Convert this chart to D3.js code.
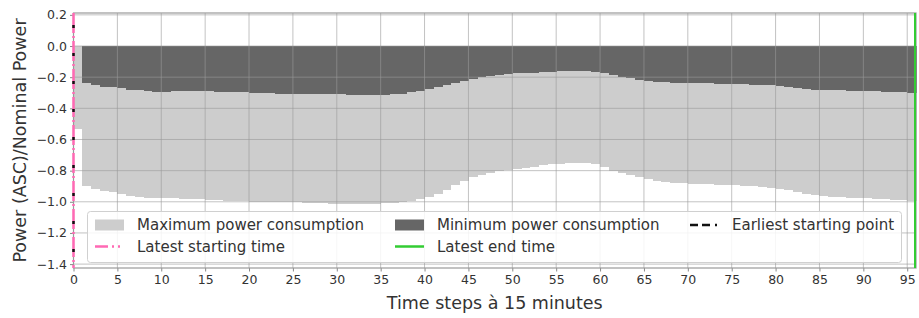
<!DOCTYPE html>
<html>
<head>
<meta charset="utf-8">
<script src="https://cdn.jsdelivr.net/npm/d3@7"></script>
<style>
  body { margin: 0; background: #fff; }
  svg { display: block; font-family: "DejaVu Sans", sans-serif; }
</style>
</head>
<body>
<svg id="chart"></svg>
<script>
// time step index (each bar spans [step, step + 1])
const steps = d3.range(96);

// maximum power consumption per step (light grey)
const maxPower = [
  -0.535, -0.900, -0.915, -0.930, -0.940, -0.950, -0.960, -0.970, -0.975, -0.978,
  -0.978, -0.978, -0.980, -0.982, -0.985, -0.987, -0.990, -0.992, -0.995, -0.997,
  -0.999, -1.000, -1.001, -1.002, -1.003, -1.004, -1.005, -1.007, -1.009, -1.011,
  -1.013, -1.015, -1.016, -1.016, -1.014, -1.010, -1.006, -1.000, -0.995, -0.985,
  -0.970, -0.950, -0.925, -0.895, -0.865, -0.840, -0.825, -0.812, -0.802, -0.795,
  -0.788, -0.781, -0.774, -0.766, -0.760, -0.755, -0.749, -0.749, -0.753, -0.758,
  -0.775, -0.800, -0.815, -0.830, -0.843, -0.855, -0.865, -0.873, -0.879, -0.882,
  -0.885, -0.887, -0.888, -0.889, -0.891, -0.893, -0.896, -0.900, -0.905, -0.910,
  -0.915, -0.925, -0.938, -0.950, -0.958, -0.963, -0.967, -0.970, -0.973, -0.976,
  -0.978, -0.981, -0.984, -0.987, -0.990, -0.993
];

// minimum power consumption per step (dark grey)
const minPower = [
   0.000, -0.240, -0.250, -0.260, -0.265, -0.270, -0.280, -0.285, -0.290, -0.293,
  -0.293, -0.290, -0.290, -0.288, -0.288, -0.290, -0.292, -0.294, -0.296, -0.298,
  -0.300, -0.302, -0.304, -0.306, -0.307, -0.308, -0.309, -0.310, -0.310, -0.310,
  -0.310, -0.312, -0.314, -0.315, -0.315, -0.314, -0.310, -0.306, -0.298, -0.288,
  -0.278, -0.265, -0.250, -0.235, -0.222, -0.210, -0.200, -0.190, -0.184, -0.180,
  -0.176, -0.173, -0.170, -0.167, -0.165, -0.163, -0.160, -0.160, -0.163, -0.168,
  -0.175, -0.185, -0.196, -0.207, -0.216, -0.222, -0.228, -0.232, -0.235, -0.236,
  -0.237, -0.238, -0.240, -0.241, -0.242, -0.244, -0.246, -0.248, -0.250, -0.253,
  -0.256, -0.262, -0.270, -0.276, -0.280, -0.282, -0.284, -0.285, -0.286, -0.287,
  -0.288, -0.290, -0.292, -0.295, -0.298, -0.300
];

const earliestStart = 0;
const latestStart = 0;
const latestEnd = 96;

const xTicks = d3.range(0, 96, 5);
const yTicks = [0.2, 0.0, -0.2, -0.4, -0.6, -0.8, -1.0, -1.2, -1.4];

const legendItems = [
  { label: "Maximum power consumption", type: "patch", color: "#cdcdcd" },
  { label: "Latest starting time", type: "line", color: "#ff69b4", dash: "13,4,2,4,2,4" },
  { label: "Minimum power consumption", type: "patch", color: "#666666" },
  { label: "Latest end time", type: "line", color: "#33cc33", dash: null },
  { label: "Earliest starting point", type: "line", color: "#111", dash: "8,4,8,5,2,10" }
];

const width = 919, height = 318;
const margin = { left: 73.5, right: 3, top: 13, bottom: 50 };

const svg = d3.select("#chart")
  .attr("width", width)
  .attr("height", height);

const x = d3.scaleLinear().domain([0, 96]).range([margin.left, width - margin.right]);
const y = d3.scaleLinear().domain([-1.425, 0.212]).range([height - margin.bottom, margin.top]);

// bars
const bars = svg.append("g").attr("shape-rendering", "crispEdges");
bars.selectAll("rect.max")
  .data(steps)
  .join("rect")
  .attr("class", "max")
  .attr("x", d => x(d))
  .attr("width", d => x(d + 1) - x(d) + 0.5)
  .attr("y", y(0))
  .attr("height", d => y(maxPower[d]) - y(0))
  .attr("fill", "#cdcdcd");

bars.selectAll("rect.min")
  .data(steps.filter(d => minPower[d] < 0))
  .join("rect")
  .attr("class", "min")
  .attr("x", d => x(d))
  .attr("width", d => x(d + 1) - x(d) + 0.5)
  .attr("y", y(0))
  .attr("height", d => y(minPower[d]) - y(0))
  .attr("fill", "#666666");

// grid on top of bars
const grid = svg.append("g")
  .attr("stroke", "#9a9a9a")
  .attr("stroke-opacity", 0.6)
  .attr("stroke-width", 1);
grid.selectAll("line.gx")
  .data(xTicks)
  .join("line")
  .attr("x1", d => x(d)).attr("x2", d => x(d))
  .attr("y1", y.range()[1]).attr("y2", y.range()[0]);
grid.selectAll("line.gy")
  .data(yTicks)
  .join("line")
  .attr("x1", x.range()[0]).attr("x2", x.range()[1])
  .attr("y1", d => y(d)).attr("y2", d => y(d));

// axes
const xAxis = svg.append("g")
  .attr("transform", `translate(0,${y.range()[0]})`)
  .call(d3.axisBottom(x).tickValues(xTicks).tickSize(3.5).tickPadding(4).tickFormat(d3.format("d")));
const yAxis = svg.append("g")
  .attr("transform", `translate(${x.range()[0]},0)`)
  .call(d3.axisLeft(y).tickValues(yTicks).tickSize(3.5).tickPadding(3)
    .tickFormat(d => d3.format(".1f")(d).replace("-", "\u2212")));

[xAxis, yAxis].forEach(a => {
  a.select(".domain").remove();
  a.selectAll(".tick line").attr("stroke", "#888");
  a.selectAll(".tick text")
    .attr("fill", "#333")
    .style("font-size", "12.5px")
    .style("font-family", "DejaVu Sans, sans-serif");
});

// frame
svg.append("rect")
  .attr("x", x.range()[0])
  .attr("y", y.range()[1])
  .attr("width", x.range()[1] - x.range()[0])
  .attr("height", y.range()[0] - y.range()[1])
  .attr("fill", "none")
  .attr("stroke", "#999")
  .attr("stroke-width", 1.2);

// vertical marker lines
const yTop = y.range()[1], yBot = y.range()[0];
svg.append("line")
  .attr("x1", x(latestStart)).attr("x2", x(latestStart))
  .attr("y1", yTop).attr("y2", yBot)
  .attr("stroke", "#ff69b4").attr("stroke-width", 2.5)
  .attr("stroke-dasharray", "20,3,2,3");
svg.append("line")
  .attr("x1", x(earliestStart)).attr("x2", x(earliestStart))
  .attr("y1", yTop + 12).attr("y2", yBot)
  .attr("stroke", "#111").attr("stroke-width", 2.5)
  .attr("stroke-dasharray", "3,25");
svg.append("line")
  .attr("x1", x(latestEnd) - 1).attr("x2", x(latestEnd) - 1)
  .attr("y1", yTop).attr("y2", yBot)
  .attr("stroke", "#33cc33").attr("stroke-width", 2);

// legend
const legend = svg.append("g");
legend.append("rect")
  .attr("x", 87.5).attr("y", 211.5)
  .attr("width", 814).attr("height", 51)
  .attr("rx", 3)
  .attr("fill", "#fff").attr("fill-opacity", 0.85)
  .attr("stroke", "#d0d0d0");

const colX = [95, 395, 690];
const rowY = [225, 246.5];
legendItems.forEach((item, i) => {
  const col = Math.floor(i / 2), row = i % 2;
  const g = legend.append("g").attr("transform", `translate(${colX[col]},${rowY[row]})`);
  if (item.type === "patch") {
    g.append("rect").attr("x", 0).attr("y", -5.5).attr("width", 29).attr("height", 11)
      .attr("fill", item.color);
  } else {
    g.append("line").attr("x1", 0).attr("x2", 29).attr("y1", 0).attr("y2", 0)
      .attr("stroke", item.color).attr("stroke-width", 2.5)
      .attr("stroke-dasharray", item.dash);
  }
  g.append("text")
    .attr("x", 42).attr("y", 0).attr("dy", "0.35em")
    .attr("fill", "#333")
    .style("font-size", "15px")
    .text(item.label);
});

// axis labels
svg.append("text")
  .attr("x", (x.range()[0] + x.range()[1]) / 2)
  .attr("y", 309)
  .attr("text-anchor", "middle")
  .attr("fill", "#333")
  .style("font-size", "17.5px")
  .text("Time steps à 15 minutes");

svg.append("text")
  .attr("transform", `translate(26,${(yTop + yBot) / 2}) rotate(-90)`)
  .attr("text-anchor", "middle")
  .attr("fill", "#333")
  .style("font-size", "17.5px")
  .text("Power (ASC)/Nominal Power");
</script>
</body>
</html>
